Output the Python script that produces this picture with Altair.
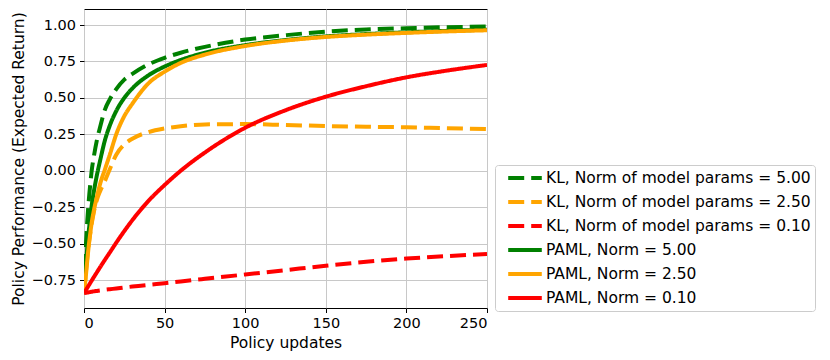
import altair as alt
import pandas as pd

x_vals = [0, 1, 2, 3, 4, 5, 6, 8, 10, 13, 16, 20, 25, 30, 40, 50, 60, 75, 100, 125, 150, 175, 200, 225, 250]

kl_5 = [-0.84, -0.55, -0.35, -0.20, -0.08, 0.02, 0.09, 0.21, 0.30, 0.42, 0.49, 0.56, 0.625, 0.665, 0.73, 0.775, 0.81, 0.85, 0.90, 0.93, 0.955, 0.97, 0.978, 0.985, 0.99]
kl_25 = [-0.84, -0.72, -0.60, -0.50, -0.42, -0.35, -0.29, -0.20, -0.14, -0.07, 0.01, 0.11, 0.18, 0.22, 0.265, 0.29, 0.305, 0.318, 0.32, 0.314, 0.307, 0.302, 0.298, 0.292, 0.286]
kl_01 = [-0.84, -0.838, -0.836, -0.834, -0.832, -0.83, -0.828, -0.825, -0.822, -0.817, -0.813, -0.808, -0.801, -0.795, -0.783, -0.772, -0.76, -0.742, -0.712, -0.682, -0.652, -0.625, -0.603, -0.586, -0.572]
paml_5 = [-0.84, -0.68, -0.53, -0.41, -0.31, -0.22, -0.15, -0.03, 0.07, 0.21, 0.31, 0.41, 0.50, 0.565, 0.655, 0.715, 0.76, 0.81, 0.862, 0.897, 0.922, 0.938, 0.95, 0.96, 0.968]
paml_25 = [-0.84, -0.74, -0.62, -0.51, -0.42, -0.34, -0.28, -0.18, -0.09, 0.01, 0.11, 0.25, 0.375, 0.46, 0.60, 0.68, 0.74, 0.797, 0.856, 0.893, 0.918, 0.934, 0.946, 0.956, 0.964]
paml_01 = [-0.84, -0.822, -0.804, -0.786, -0.768, -0.75, -0.732, -0.697, -0.662, -0.611, -0.561, -0.494, -0.414, -0.339, -0.207, -0.098, 0.0, 0.125, 0.295, 0.415, 0.508, 0.58, 0.641, 0.687, 0.726]

series_names = [
    "KL, Norm of model params = 5.00",
    "KL, Norm of model params = 2.50",
    "KL, Norm of model params = 0.10",
    "PAML, Norm = 5.00",
    "PAML, Norm = 2.50",
    "PAML, Norm = 0.10",
]
series_values = [kl_5, kl_25, kl_01, paml_5, paml_25, paml_01]
series_colors = ["#008000", "#FFA500", "#FF0000", "#008000", "#FFA500", "#FF0000"]
series_dashes = [[16, 7], [16, 7], [16, 7], [1, 0], [1, 0], [1, 0]]

y_ticks = [-0.75, -0.5, -0.25, 0.0, 0.25, 0.5, 0.75, 1.0]
x_ticks = [0, 50, 100, 150, 200, 250]

rows = []
for i, (name, vals) in enumerate(zip(series_names, series_values)):
    for x, v in zip(x_vals, vals):
        rows.append({"updates": x, "perf": v, "series": name, "order": i})
df = pd.DataFrame(rows)

FONT = "DejaVu Sans"

chart = alt.Chart(df).mark_line(strokeWidth=4, strokeCap="butt", clip=True, interpolate="monotone").encode(
    x=alt.X("updates:Q",
            scale=alt.Scale(domain=[0, 250], nice=False, zero=False),
            axis=alt.Axis(values=x_ticks, title="Policy updates", format="d")),
    y=alt.Y("perf:Q",
            scale=alt.Scale(domain=[-0.942, 1.11], nice=False, zero=False),
            axis=alt.Axis(values=y_ticks, title="Policy Performance (Expected Return)",
                          labelExpr="replace(format(datum.value, '.2f'), '-', '\u2212')")),
    color=alt.Color("series:N", sort=series_names,
                    scale=alt.Scale(domain=series_names, range=series_colors),
                    legend=alt.Legend(title=None, orient="none", legendX=411, legendY=156,
                                      symbolType="M-2.4,0H2.4", symbolSize=196, symbolStrokeWidth=4,
                                      labelFontSize=15.5, labelFont=FONT, labelColor="black",
                                      labelLimit=400, rowPadding=6,
                                      strokeColor="#cccccc", fillColor="white", padding=4,
                                      cornerRadius=3, symbolOffset=17, labelOffset=12)),
    strokeDash=alt.StrokeDash("series:N", sort=series_names,
                              scale=alt.Scale(domain=series_names, range=series_dashes),
                              legend=None),
    detail="order:O",
).properties(
    width=403, height=299,
    autosize=alt.AutoSizeParams(type="none"),
    padding={"left": 76, "top": 1, "right": 330, "bottom": 50},
).configure_view(
    stroke="black", strokeWidth=1,
).configure_axis(
    grid=True, gridColor="#c8c8c8", gridWidth=1,
    domain=False, tickColor="black", tickSize=4.5, tickWidth=1,
    labelFont=FONT, labelFontSize=14.5, labelColor="black", labelPadding=4,
    titleFont=FONT, titleFontSize=15.5, titleFontWeight="normal", titleColor="black",
    titlePadding=5,
)

chart.save("out.html", embed_options={"renderer": "svg", "actions": False})
